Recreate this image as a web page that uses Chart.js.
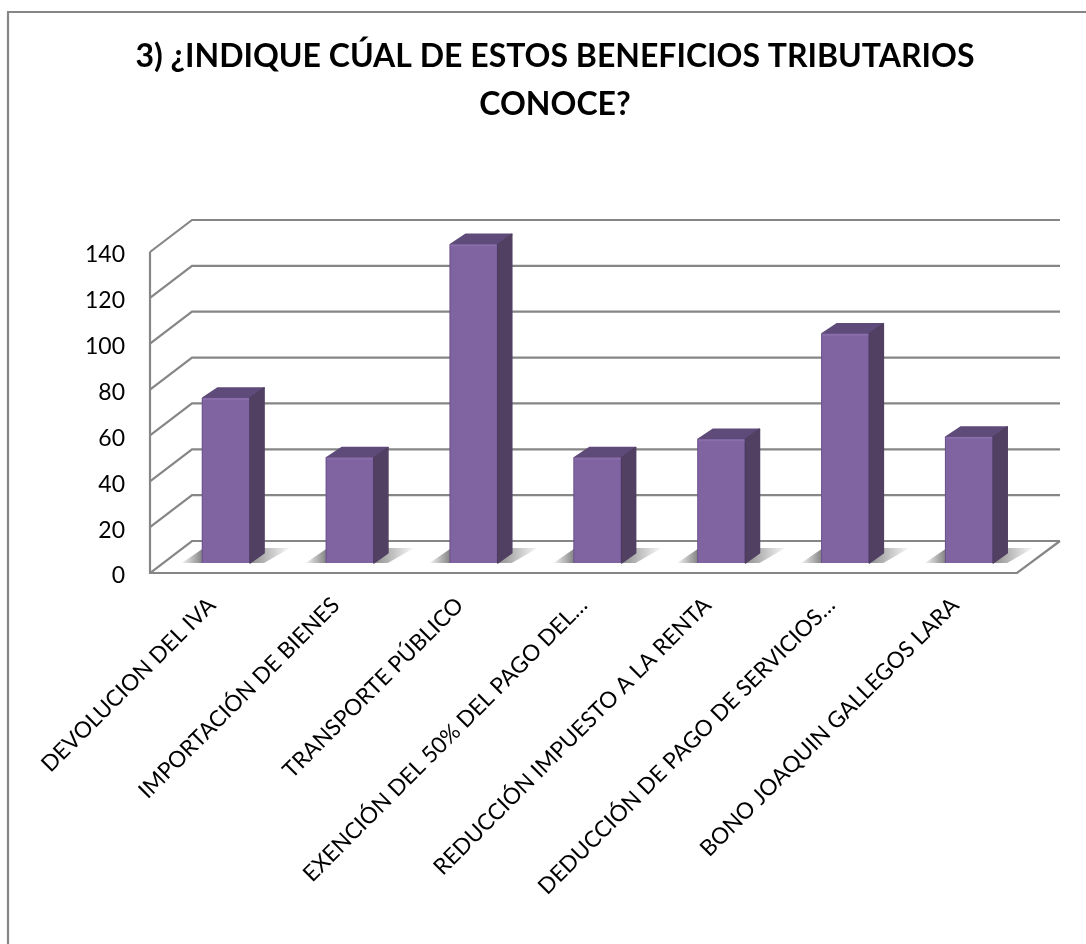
<!DOCTYPE html>
<html lang="es">
<head>
<meta charset="utf-8">
<title>Beneficios tributarios</title>
<script src="https://cdn.jsdelivr.net/npm/chart.js@4"></script>
<style>
  html, body { margin: 0; padding: 0; background: #fff; overflow: hidden; }
  canvas { display: block; }
</style>
</head>
<body>
<canvas id="mychart" width="1086" height="944"></canvas>
<script>
'use strict'

// datos
const titleLines = ['3) ¿INDIQUE CÚAL DE ESTOS BENEFICIOS TRIBUTARIOS', 'CONOCE?'];
const categories = [
  'DEVOLUCION DEL IVA',
  'IMPORTACIÓN DE BIENES',
  'TRANSPORTE PÚBLICO',
  'EXENCIÓN DEL 50% DEL PAGO DEL…',
  'REDUCCIÓN IMPUESTO A LA RENTA',
  'DEDUCCIÓN DE PAGO DE SERVICIOS…',
  'BONO JOAQUIN GALLEGOS LARA',
];
const values = [72, 46, 139, 46, 54, 100, 55];

const gridColor = '#868686';
const fontName = 'Lato, "Open Sans", sans-serif';

// profundidad del "3D"
const lift = 3;                 // las lineas van un poco mas arriba que las etiquetas del eje
const wallX = 42, wallY = 32;   // pared del fondo
const barX = 14, barY = 10 + lift;  // donde arranca la barra
const sideX = 15, sideY = 11;   // lado de la barra

// marco, paredes y lineas de rejilla (van detras de las barras)
const wallsPlugin = {
  id: 'walls',
  beforeDatasetsDraw(chart) {
    const { ctx, chartArea, scales } = chart;
    const left = chartArea.left, right = chartArea.right;
    const y0 = scales.y.getPixelForValue(0) - lift;
    const yTop = scales.y.getPixelForValue(scales.y.max) - lift;

    ctx.save();
    ctx.strokeStyle = gridColor;
    ctx.lineWidth = 2.2;

    // marco de la imagen: recortado a la derecha y abajo
    ctx.beginPath();
    ctx.moveTo(8, chart.height);
    ctx.lineTo(8, 12);
    ctx.lineTo(chart.width, 12);
    ctx.stroke();

    scales.y.ticks.forEach((t) => {
      const y = scales.y.getPixelForValue(t.value) - lift;
      ctx.beginPath();
      ctx.moveTo(left, y);
      ctx.lineTo(left + wallX, y - wallY);
      ctx.lineTo(right + wallX + 1, y - wallY);
      ctx.stroke();
    });

    // suelo y eje vertical
    ctx.beginPath();
    ctx.moveTo(left, yTop);
    ctx.lineTo(left, y0);
    ctx.lineTo(right, y0);
    ctx.lineTo(right + wallX + 1, y0 - wallY);
    ctx.stroke();

    // sombra de cada barra en el suelo
    chart.getDatasetMeta(0).data.forEach((bar) => {
      const x1 = bar.x - bar.width / 2 + barX;
      const x2 = bar.x + bar.width / 2 + barX;
      const base = bar.base - barY;
      const g = ctx.createLinearGradient(x1 - 22, 0, x2 + 42, 0);
      g.addColorStop(0, 'rgba(110,110,110,0)');
      g.addColorStop(0.2, 'rgba(110,110,110,0.85)');
      g.addColorStop(0.62, 'rgba(110,110,110,0.8)');
      g.addColorStop(0.76, 'rgba(110,110,110,0.5)');
      g.addColorStop(1, 'rgba(110,110,110,0)');
      ctx.fillStyle = g;
      ctx.beginPath();
      ctx.moveTo(x1 - 20, base);
      ctx.lineTo(x2 + 14, base);
      ctx.lineTo(x2 + 40, base - 15);
      ctx.lineTo(x1 + 2, base - 15);
      ctx.closePath();
      ctx.fill();
    });
    ctx.restore();
  },

  // la cara frontal se mueve hacia dentro del suelo
  beforeDatasetDraw(chart) {
    chart.ctx.save();
    chart.ctx.translate(barX, -barY);
  },
  afterDatasetDraw(chart) {
    chart.ctx.restore();
  },

  // lados y tapa de las barras
  afterDatasetsDraw(chart) {
    const { ctx } = chart;
    ctx.save();
    ctx.lineJoin = 'round';
    ctx.lineWidth = 1.5;
    chart.getDatasetMeta(0).data.forEach((bar) => {
      const x1 = bar.x - bar.width / 2 + barX;
      const x2 = bar.x + bar.width / 2 + barX;
      const top = bar.y - barY;
      const base = bar.base - barY;

      ctx.fillStyle = ctx.strokeStyle = '#5f4b79';
      ctx.beginPath();
      ctx.moveTo(x1 + 1, top);
      ctx.lineTo(x1 + sideX + 1, top - sideY + 1);
      ctx.lineTo(x2 + sideX - 1, top - sideY + 1);
      ctx.lineTo(x2, top);
      ctx.closePath();
      ctx.fill();
      ctx.stroke();

      ctx.fillStyle = ctx.strokeStyle = '#524063';
      ctx.beginPath();
      ctx.moveTo(x2, top);
      ctx.lineTo(x2 + sideX - 1, top - sideY + 1);
      ctx.lineTo(x2 + sideX - 1, base - sideY + 1);
      ctx.lineTo(x2, base);
      ctx.closePath();
      ctx.fill();
      ctx.stroke();

      // brillo en los bordes de la cara frontal
      ctx.fillStyle = 'rgba(60,40,90,0.3)';
      ctx.fillRect(x1, top, 1, base - top);
      ctx.fillRect(x2 - 1, top, 1, base - top);
      ctx.fillStyle = '#8a6eab';
      ctx.fillRect(x1 + 1, top, x2 - x1 - 2, 2);
    });
    ctx.restore();
  },
};

let ctx = document.getElementById('mychart');

let myChart = new Chart(ctx, {
  type: 'bar',
  data: {
    labels: categories,
    datasets: [{
      data: values,
      backgroundColor: '#8064a2',
      borderWidth: 0,
      categoryPercentage: 1,
      barPercentage: 0.39,
    }],
  },
  plugins: [wallsPlugin],
  options: {
    responsive: false,
    animation: false,
    layout: { padding: { left: 24, right: 0, top: 0, bottom: 0 } },
    plugins: {
      legend: { display: false },
      tooltip: { enabled: false },
      title: {
        display: true,
        text: titleLines,
        color: '#000',
        align: 'center',
        font: { family: fontName, size: 32, weight: 'bold', lineHeight: 1.5 },
        padding: { top: 33, bottom: 126 },
      },
    },
    scales: {
      x: {
        grid: { display: false },
        border: { display: false },
        ticks: {
          color: '#000',
          autoSkip: false,
          minRotation: 45,
          maxRotation: 45,
          padding: 8,
          font: { family: fontName, size: 22.5 },
        },
        afterFit(scale) {
          scale.height = 368;
          scale.paddingLeft = 0;
          scale.paddingRight = 0;
        },
      },
      y: {
        min: 0,
        max: 140,
        grid: { display: false },
        border: { display: false },
        ticks: {
          color: '#000',
          stepSize: 20,
          padding: 17,
          font: { family: fontName, size: 23 },
        },
        afterFit(scale) {
          scale.width = 126;
          scale.paddingTop = 0;
          scale.paddingBottom = 0;
        },
      },
      // eje vacio: deja el margen derecho sin mover el centro del titulo
      yRight: {
        position: 'right',
        min: 0,
        max: 140,
        grid: { display: false },
        border: { display: false },
        ticks: { display: false },
        afterFit(scale) {
          scale.width = 69;
        },
      },
    },
  },
});
</script>
</body>
</html>
